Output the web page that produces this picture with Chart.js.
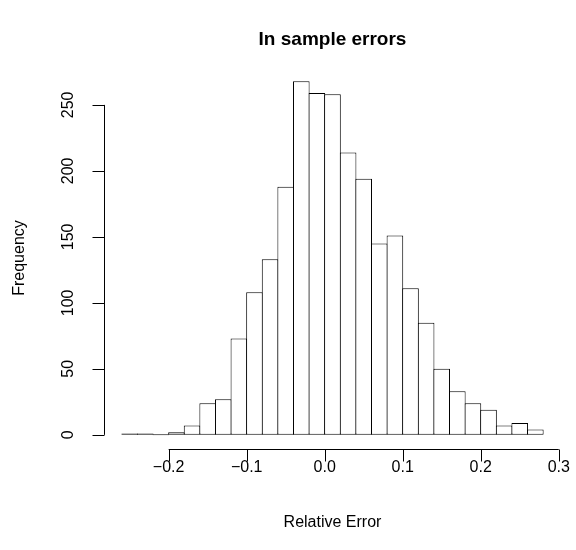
<!DOCTYPE html>
<html><head><meta charset="utf-8">
<script src="https://cdn.jsdelivr.net/npm/chart.js@4"></script>
<style>html,body{margin:0;padding:0;background:#fff;}canvas{display:block;}</style>
</head><body>
<canvas id="c" width="576" height="550"></canvas>
<script>
const chartTitle = 'In sample errors';
const xAxisTitle = 'Relative Error';
const yAxisTitle = 'Frequency';
const breaks = [-0.26,-0.24,-0.22,-0.20,-0.18,-0.16,-0.14,-0.12,-0.10,-0.08,-0.06,-0.04,-0.02,0.00,0.02,0.04,0.06,0.08,0.10,0.12,0.14,0.16,0.18,0.20,0.22,0.24,0.26,0.28];
const counts = [1,1,0,2,7,24,27,73,108,133,188,268,259,258,214,194,145,151,111,85,50,33,24,19,7,9,4];
const xTicks = [-0.2,-0.1,0,0.1,0.2,0.3];
const xTickLabels = ['\u22120.2','\u22120.1','0.0','0.1','0.2','0.3'];
const yTicks = [0,50,100,150,200,250];
const yTickLabels = ['0','50','100','150','200','250'];

const FONT = "'Liberation Sans', Arial, Helvetica, sans-serif";
const points = counts.map((c,i)=>({x:(breaks[i]+breaks[i+1])/2, y:c}));
const xLo = breaks[0], xHi = breaks[breaks.length-1];
const xPad = 0.04*(xHi-xLo);
const yHi = Math.max(...counts);
const yPad = 0.04*yHi;

const rAxes = {
  id:'rAxes',
  afterDraw(chart){
    const ctx = chart.ctx, xs = chart.scales.x, ys = chart.scales.y, a = chart.chartArea;
    ctx.save();
    ctx.strokeStyle = '#000'; ctx.lineWidth = 1; ctx.fillStyle = '#000';
    const tl = 12;
    // x axis
    const xa = Math.round(a.bottom)+0.5;
    ctx.beginPath();
    ctx.moveTo(xs.getPixelForValue(xTicks[0]), xa);
    ctx.lineTo(xs.getPixelForValue(xTicks[xTicks.length-1]), xa);
    xTicks.forEach(v=>{const p=Math.round(xs.getPixelForValue(v))+0.5; ctx.moveTo(p,xa); ctx.lineTo(p,xa+tl);});
    ctx.stroke();
    ctx.font = '16px '+FONT; ctx.textAlign='center'; ctx.textBaseline='middle';
    xTicks.forEach((v,i)=>ctx.fillText(xTickLabels[i], xs.getPixelForValue(v), xa+18));
    // y axis
    const ya = Math.round(a.left)-0.5;
    ctx.beginPath();
    ctx.moveTo(ya, ys.getPixelForValue(yTicks[0]));
    ctx.lineTo(ya, ys.getPixelForValue(yTicks[yTicks.length-1]));
    yTicks.forEach(v=>{const p=Math.round(ys.getPixelForValue(v))+0.5; ctx.moveTo(ya,p); ctx.lineTo(ya-tl,p);});
    ctx.stroke();
    yTicks.forEach((v,i)=>{ctx.save(); ctx.translate(ya-36, ys.getPixelForValue(v)); ctx.rotate(-Math.PI/2); ctx.fillText(yTickLabels[i],0,0); ctx.restore();});
    // titles
    const cx = (a.left+a.right)/2, cy = (a.top+a.bottom)/2;
    ctx.fillText(xAxisTitle, cx, 523);
    ctx.save(); ctx.translate(20, cy); ctx.rotate(-Math.PI/2); ctx.fillText(yAxisTitle,0,0); ctx.restore();
    ctx.font = 'bold 19px '+FONT;
    ctx.fillText(chartTitle, cx, 40);
    ctx.restore();
  }
};

new Chart(document.getElementById('c'), {
  type:'bar',
  data:{datasets:[{data:points, backgroundColor:'#ffffff', borderColor:'#000000', borderWidth:1, borderSkipped:false, inflateAmount:0, barPercentage:1.064, categoryPercentage:1, minBarLength:1}]},
  options:{
    responsive:false, animation:false, devicePixelRatio:1,
    layout:{padding:{left:105, right:16, top:67, bottom:101}},
    plugins:{legend:{display:false}, title:{display:false}, tooltip:{enabled:false}},
    scales:{
      x:{type:'linear', display:false, min:xLo-xPad, max:xHi+xPad, offset:false},
      y:{type:'linear', display:false, min:-yPad, max:yHi+yPad}
    }
  },
  plugins:[rAxes]
});
</script>
</body></html>
